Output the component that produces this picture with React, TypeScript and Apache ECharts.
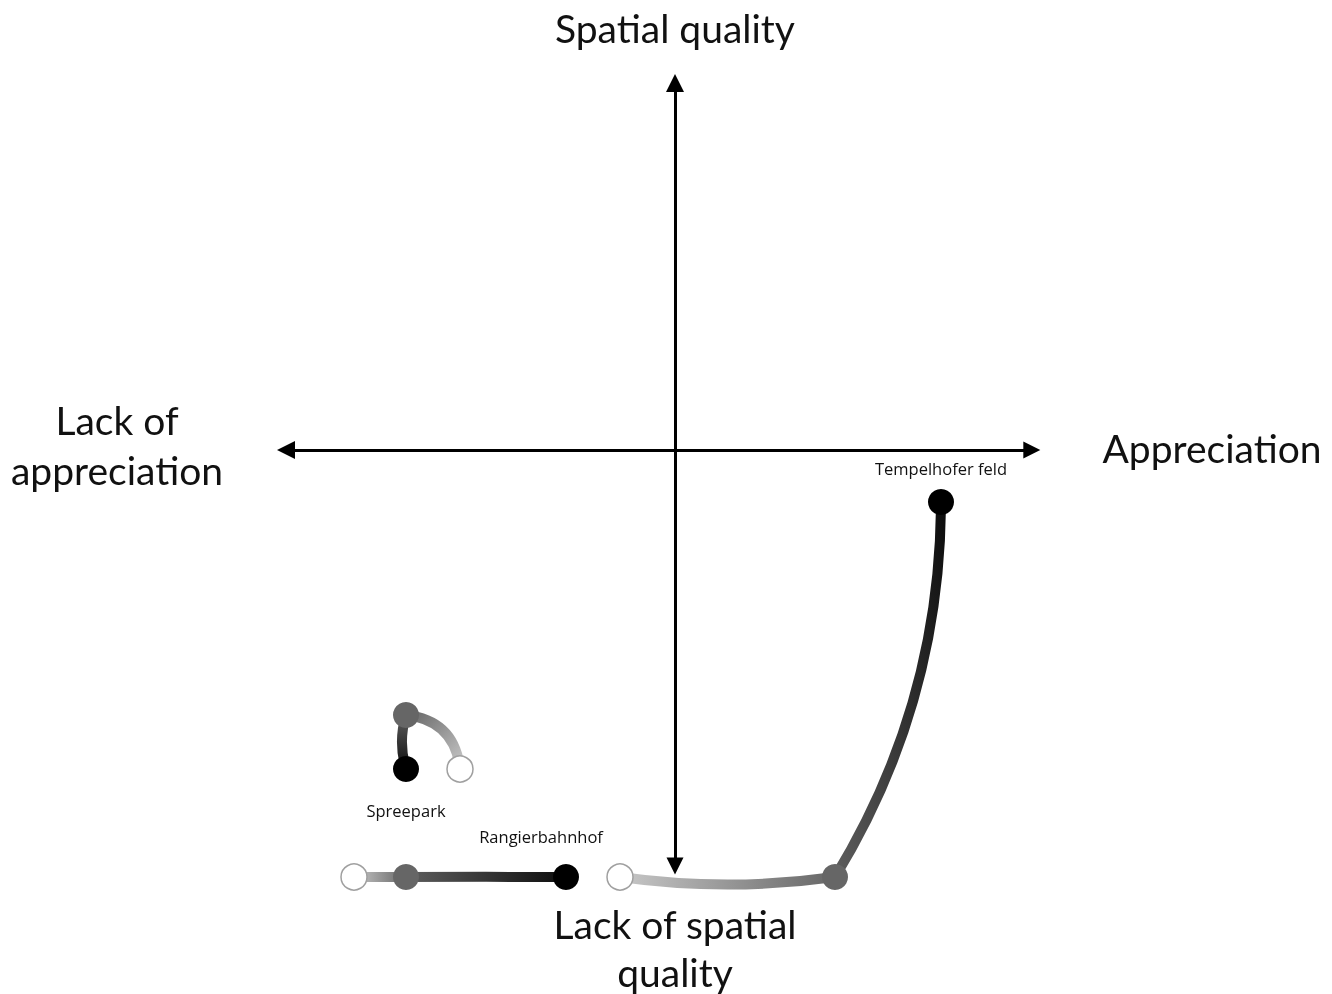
import React, { useEffect, useRef } from "react";
import * as echarts from "echarts";

// Places and their three stages (start -> middle -> end), in chart units
const places = ["Tempelhofer feld", "Rangierbahnhof", "Spreepark"];
const startPoints: [number, number][] = [[-1.375, -10.675], [-8.025, -10.675], [-5.375, -7.975]];
const middlePoints: [number, number][] = [[4.0, -10.675], [-6.725, -10.675], [-6.725, -6.625]];
const endPoints: [number, number][] = [[6.65, -1.3], [-2.725, -10.675], [-6.725, -7.975]];
// curveness for start->middle and middle->end segments
const curveFirst = [-0.07, 0.002, -0.4];
const curveSecond = [-0.14, 0.002, -0.15];

// Quadrant axes (ends in chart units)
const hAxisEnds: [number, number][] = [[-9.725, 0], [8.92, 0]];
const vAxisEnds: [number, number][] = [[0, 9.175], [0, -10.4]];

const axisTitles = {
  top: "Spatial quality",
  bottom: "Lack of spatial\nquality",
  right: "Appreciation",
  left: "Lack of\nappreciation",
};

const LIGHT = "#c8c8c8";
const MID = "#666666";
const DARK = "#000000";

function grad(x: number, y: number, x2: number, y2: number, c1: string, c2: string) {
  return new echarts.graphic.LinearGradient(x, y, x2, y2, [
    { offset: 0, color: c1 },
    { offset: 1, color: c2 },
  ]);
}

function dirGrad(a: [number, number], b: [number, number], c1: string, c2: string) {
  const dx = b[0] - a[0];
  const dy = b[1] - a[1];
  const ax = Math.abs(dx) < 1e-6 ? 0 : dx > 0 ? 0 : 1;
  const bx = Math.abs(dx) < 1e-6 ? 0 : dx > 0 ? 1 : 0;
  const ay = Math.abs(dy) < 1e-6 ? 0 : dy > 0 ? 1 : 0;
  const by = Math.abs(dy) < 1e-6 ? 0 : dy > 0 ? 0 : 1;
  return grad(ax, ay, bx, by, c1, c2);
}

export default function App() {
  const ref = useRef<HTMLDivElement>(null);
  useEffect(() => {
    if (!ref.current) return;
    const chart = echarts.init(ref.current, undefined, { renderer: "svg" });

    const segs: any[] = [];
    places.forEach((_, i) => {
      segs.push({
        coords: [startPoints[i], middlePoints[i]],
        lineStyle: {
          width: 10,
          opacity: 1,
          color: dirGrad(startPoints[i], middlePoints[i], LIGHT, MID),
          curveness: curveFirst[i],
        },
      });
      segs.push({
        coords: [middlePoints[i], endPoints[i]],
        lineStyle: {
          width: 10,
          opacity: 1,
          color: dirGrad(middlePoints[i], endPoints[i], "#5e5e5e", "#0d0d0d"),
          curveness: curveSecond[i],
        },
      });
    });

    const labelPos: any[] = [
      { position: "top", distance: 12 },
      { position: "top", distance: 19, offset: [-25, 0] },
      { position: "bottom", distance: 19.5 },
    ];

    const dots: any[] = [];
    places.forEach((name, i) => {
      dots.push({ value: startPoints[i], itemStyle: { color: "#ffffff", borderColor: "#a0a0a0", borderWidth: 1.5, opacity: 1 } });
      dots.push({ value: middlePoints[i], itemStyle: { color: MID, opacity: 1 } });
      dots.push({
        value: endPoints[i],
        itemStyle: { color: DARK, opacity: 1 },
        label: {
          show: true,
          formatter: name,
          fontFamily: "Open Sans",
          fontSize: 16.5,
          color: "#111",
          ...labelPos[i],
        },
      });
    });

    const titleFont = { fontFamily: "Lato", fontSize: 39, fill: "#111" };

    chart.setOption({
      animation: false,
      grid: { left: 275, width: 800, top: 50, height: 850 },
      xAxis: { type: "value", min: -10, max: 10, show: false },
      yAxis: { type: "value", min: -11.25, max: 10, show: false },
      series: [
        {
          type: "lines",
          coordinateSystem: "cartesian2d",
          clip: false,
          symbol: ["triangle", "triangle"],
          symbolSize: [18, 17],
          lineStyle: { color: "#000", width: 3, curveness: 0, opacity: 1 },
          data: [{ coords: hAxisEnds }, { coords: vAxisEnds }],
          z: 1,
        },
        {
          type: "lines",
          coordinateSystem: "cartesian2d",
          clip: false,
          lineStyle: { width: 10, opacity: 1 },
          data: segs,
          z: 2,
        },
        {
          type: "scatter",
          clip: false,
          symbolSize: 26,
          itemStyle: { opacity: 1 },
          data: dots,
          z: 3,
        },
      ],
      graphic: [
        { type: "text", x: 675, y: 28, style: { text: axisTitles.top, ...titleFont, lineHeight: 48, align: "center", verticalAlign: "middle" } },
        { type: "text", x: 675, y: 948, style: { text: axisTitles.bottom, ...titleFont, lineHeight: 48, align: "center", verticalAlign: "middle" } },
        { type: "text", x: 1212, y: 448, style: { text: axisTitles.right, ...titleFont, lineHeight: 48, align: "center", verticalAlign: "middle" } },
        { type: "text", x: 117, y: 445, style: { text: axisTitles.left, ...titleFont, lineHeight: 50, align: "center", verticalAlign: "middle" } },
      ],
    });
    return () => chart.dispose();
  }, []);
  return <div ref={ref} style={{ position: "fixed", left: 0, top: 0, width: 1332, height: 994 }} />;
}
